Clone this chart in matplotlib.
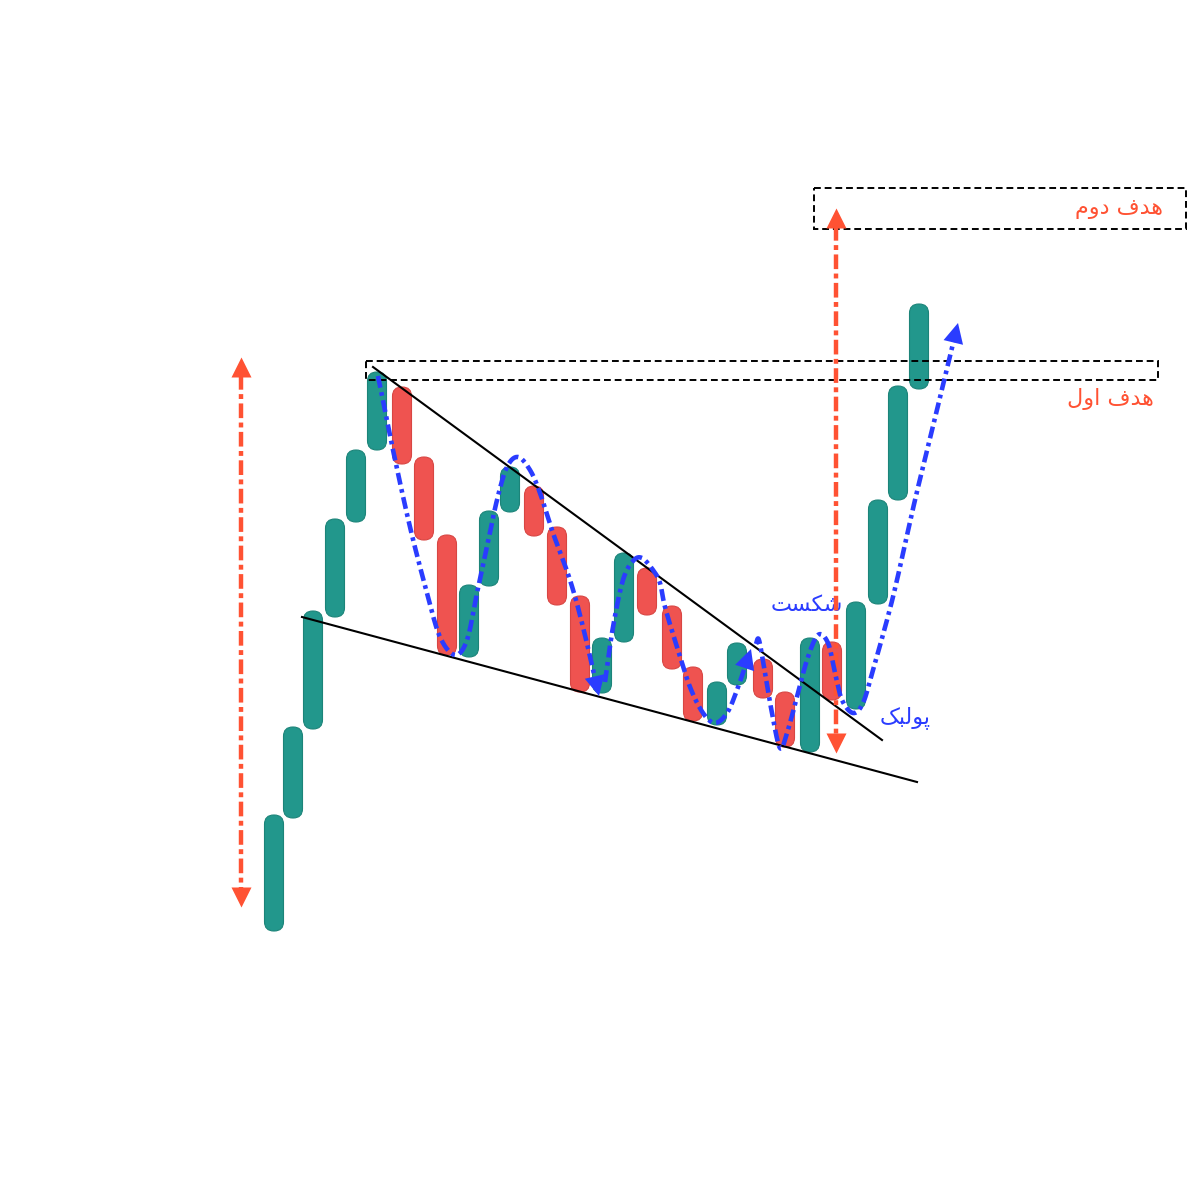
import numpy as np
import matplotlib
matplotlib.use('Agg')
import matplotlib.pyplot as plt
from matplotlib.patches import FancyBboxPatch, Rectangle

# candles (chart units: x to the right, y grows downward like the picture)
candle_x = [274, 293, 313, 335, 356, 377, 402, 424, 447, 469, 489, 510, 534, 557, 580,
            602, 624, 647, 672, 693, 717, 737, 763, 785, 810, 832, 856, 878, 898, 919]
candle_open = [931, 818, 729, 617, 522, 450, 387, 457, 535, 657, 586, 512, 486, 527, 596,
               693, 642, 568, 606, 667, 725, 685, 659, 692, 752, 642, 709, 604, 500, 389]
candle_close = [815, 727, 611, 519, 450, 372, 464, 540, 655, 585, 511, 467, 536, 605, 692,
                638, 553, 615, 669, 721, 682, 643, 698, 747, 638, 700, 602, 500, 386, 304]

# trend lines
upper_line = [(373, 367), (882, 740)]
lower_line = [(302, 617), (917, 782)]

# target boxes (x0, x1, y0, y1)
box_first = (366, 1158, 361, 380)
box_second = (814, 1186, 188, 229)

# measuring arrows (x, top tip, bottom tip)
measure_left = (241, 357, 907)
measure_right = (836, 208, 753)

# blue path, three pieces
wave_a = [(378, 376), (393, 450), (410, 527), (427, 593), (440, 637), (455, 655), (467, 640),
          (477, 593), (487, 547), (497, 500), (507, 467), (518, 457), (530, 470), (540, 493),
          (553, 533), (570, 580), (583, 627), (599, 696)]
wave_b = [(605, 682), (613, 627), (623, 580), (633, 561), (642, 558), (653, 570), (660, 583),
          (665, 607), (677, 647), (690, 687), (703, 713), (715, 723), (727, 713), (737, 690),
          (751, 649)]
wave_c = [(756, 644), (759, 640), (765, 673), (772, 713), (780, 748), (787, 733), (797, 697),
          (807, 660), (818, 635), (828, 643), (835, 673), (842, 700), (853, 713), (863, 703),
          (873, 670), (887, 620), (897, 580), (915, 500), (935, 418), (958, 323)]

# labels (Arabic presentation forms, visual order)
label_second = '\uFEE1\uFEED\uFEA9 \uFED1\uFEAA\uFEEB'   # هدف دوم
label_first = '\uFEDD\uFEED\uFE8D \uFED1\uFEAA\uFEEB'    # هدف اول
label_break = '\uFE96\uFEB4\uFB91\uFEB7'                # شکست
label_pullback = '\uFB8F\uFE92\uFEDF\uFEEE\uFB58'       # پولبک

green = '#22978c'
red = '#ef5350'
orange = '#ff5233'
blue = '#2a3cff'


def smooth(pts, n=16):
    p = np.asarray(pts, float)
    p = np.vstack([p[0], p, p[-1]])
    out = []
    t = np.linspace(0, 1, n, endpoint=False)[:, None]
    for i in range(1, len(p) - 2):
        p0, p1, p2, p3 = p[i - 1], p[i], p[i + 1], p[i + 2]
        out.append(0.5 * (2 * p1 + (-p0 + p2) * t + (2 * p0 - 5 * p1 + 4 * p2 - p3) * t ** 2
                          + (-p0 + 3 * p1 - 3 * p2 + p3) * t ** 3))
    out.append(p[-2][None])
    return np.vstack(out)


fig = plt.figure(figsize=(12, 12), dpi=100)
ax = fig.add_axes([0, 0, 1, 1])
ax.set_xlim(0, 1200)
ax.set_ylim(1200, 0)
ax.axis('off')

w = 19
for x, o, c in zip(candle_x, candle_open, candle_close):
    up = c < o
    top, bot = min(o, c), max(o, c)
    col = green if up else red
    edge = '#1c8479' if up else '#d84643'
    ax.add_patch(FancyBboxPatch((x - w / 2, top), w, bot - top,
                                boxstyle='round,pad=0,rounding_size=9.3',
                                fc=col, ec=edge, lw=0.8, zorder=2))

for ln in (upper_line, lower_line):
    ax.plot([ln[0][0], ln[1][0]], [ln[0][1], ln[1][1]], color='black', lw=1.5, zorder=3)

for b in (box_first, box_second):
    ax.add_patch(Rectangle((b[0], b[2]), b[1] - b[0], b[3] - b[2], fill=False,
                           ec='black', lw=1.4, ls=(0, (3.5, 2)), zorder=3))

for x, ytop, ybot in (measure_left, measure_right):
    ax.plot([x, x], [ytop + 18, ybot - 18], color=orange, lw=3.2,
            ls=(0, (3.3, 1, 1.1, 1)), zorder=4)
    ax.plot(x, ytop + 10, marker='^', ms=14.4, color=orange, mec='none', zorder=4)
    ax.plot(x, ybot - 10, marker='v', ms=14.4, color=orange, mec='none', zorder=4)

for wave in (wave_a, wave_b, wave_c):
    s = smooth(wave)
    tip = s[-1]
    d = s[-1] - s[-4]
    d = d / np.hypot(*d)
    # cut the tail under the arrow head
    k = len(s) - 1
    while k > 0 and np.hypot(*(s[k] - tip)) < 16:
        k -= 1
    ax.plot(s[:k + 1, 0], s[:k + 1, 1], color=blue, lw=3.3,
            ls=(0, (2.6, 1, 0.8, 1)), zorder=5, solid_capstyle='butt')
    ax.annotate('', xy=tip, xytext=tip - d * 20,
                arrowprops=dict(arrowstyle='-|>,head_length=0.8,head_width=0.4',
                                mutation_scale=18, color=blue, lw=0,
                                shrinkA=0, shrinkB=0), zorder=6)

fam = ['DejaVu Sans']
ax.text(1163, 209, label_second, color=orange, fontsize=16, ha='right', va='center', family=fam)
ax.text(1154, 399, label_first, color=orange, fontsize=16, ha='right', va='center', family=fam)
ax.text(843, 605, label_break, color=blue, fontsize=16, ha='right', va='center', family=fam)
ax.text(931, 718, label_pullback, color=blue, fontsize=16, ha='right', va='center', family=fam)

fig.savefig('out.png', dpi=100, facecolor='white')
